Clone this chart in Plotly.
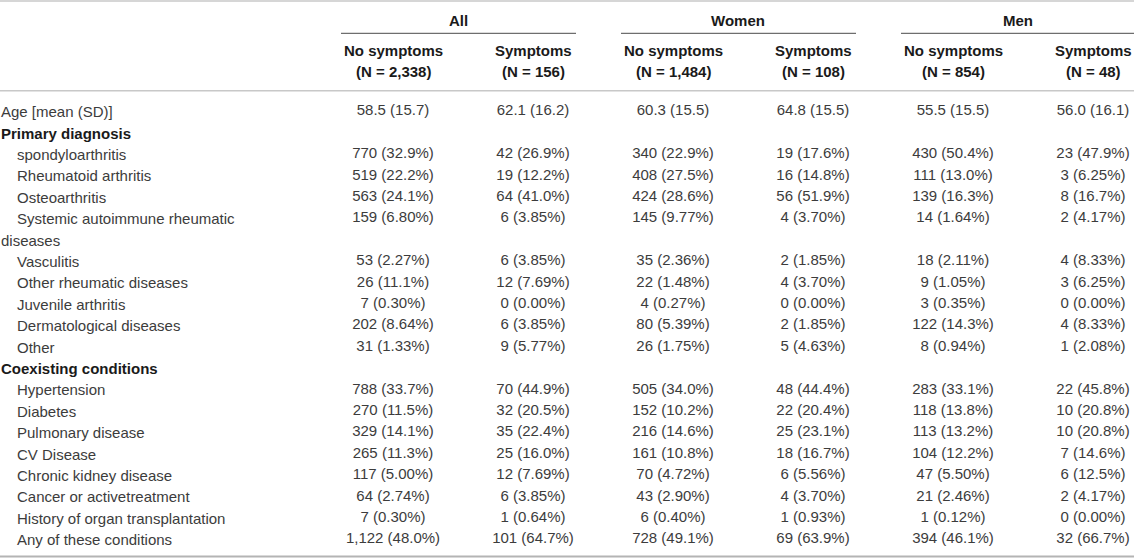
import textwrap
import plotly.graph_objects as go

# table content
groups = ["All", "Women", "Men"]
subgroups = ["No symptoms", "Symptoms"]
group_n = ["2,338", "156", "1,484", "108", "854", "48"]

age_label = "Age [mean (SD)]"
sections = ["Primary diagnosis", "Coexisting conditions"]
primary_labels = ["spondyloarthritis", "Rheumatoid arthritis", "Osteoarthritis",
                  "Systemic autoimmune rheumatic diseases", "Vasculitis",
                  "Other rheumatic diseases", "Juvenile arthritis",
                  "Dermatological diseases", "Other"]
coexisting_labels = ["Hypertension", "Diabetes", "Pulmonary disease", "CV Disease",
                     "Chronic kidney disease", "Cancer or activetreatment",
                     "History of organ transplantation", "Any of these conditions"]

# one list per column: age, 9 primary diagnoses, 8 coexisting conditions
all_no = ["58.5 (15.7)", "770 (32.9%)", "519 (22.2%)", "563 (24.1%)", "159 (6.80%)",
          "53 (2.27%)", "26 (11.1%)", "7 (0.30%)", "202 (8.64%)", "31 (1.33%)",
          "788 (33.7%)", "270 (11.5%)", "329 (14.1%)", "265 (11.3%)", "117 (5.00%)",
          "64 (2.74%)", "7 (0.30%)", "1,122 (48.0%)"]
all_sym = ["62.1 (16.2)", "42 (26.9%)", "19 (12.2%)", "64 (41.0%)", "6 (3.85%)",
           "6 (3.85%)", "12 (7.69%)", "0 (0.00%)", "6 (3.85%)", "9 (5.77%)",
           "70 (44.9%)", "32 (20.5%)", "35 (22.4%)", "25 (16.0%)", "12 (7.69%)",
           "6 (3.85%)", "1 (0.64%)", "101 (64.7%)"]
women_no = ["60.3 (15.5)", "340 (22.9%)", "408 (27.5%)", "424 (28.6%)", "145 (9.77%)",
            "35 (2.36%)", "22 (1.48%)", "4 (0.27%)", "80 (5.39%)", "26 (1.75%)",
            "505 (34.0%)", "152 (10.2%)", "216 (14.6%)", "161 (10.8%)", "70 (4.72%)",
            "43 (2.90%)", "6 (0.40%)", "728 (49.1%)"]
women_sym = ["64.8 (15.5)", "19 (17.6%)", "16 (14.8%)", "56 (51.9%)", "4 (3.70%)",
             "2 (1.85%)", "4 (3.70%)", "0 (0.00%)", "2 (1.85%)", "5 (4.63%)",
             "48 (44.4%)", "22 (20.4%)", "25 (23.1%)", "18 (16.7%)", "6 (5.56%)",
             "4 (3.70%)", "1 (0.93%)", "69 (63.9%)"]
men_no = ["55.5 (15.5)", "430 (50.4%)", "111 (13.0%)", "139 (16.3%)", "14 (1.64%)",
          "18 (2.11%)", "9 (1.05%)", "3 (0.35%)", "122 (14.3%)", "8 (0.94%)",
          "283 (33.1%)", "118 (13.8%)", "113 (13.2%)", "104 (12.2%)", "47 (5.50%)",
          "21 (2.46%)", "1 (0.12%)", "394 (46.1%)"]
men_sym = ["56.0 (16.1)", "23 (47.9%)", "3 (6.25%)", "8 (16.7%)", "2 (4.17%)",
           "4 (8.33%)", "3 (6.25%)", "0 (0.00%)", "4 (8.33%)", "1 (2.08%)",
           "22 (45.8%)", "10 (20.8%)", "10 (20.8%)", "7 (14.6%)", "6 (12.5%)",
           "2 (4.17%)", "0 (0.00%)", "32 (66.7%)"]
columns = [all_no, all_sym, women_no, women_sym, men_no, men_sym]

# layout (pixels)
W, H = 1145, 560
FONT = "Liberation Sans"
FS = 15
BODY = "#3c3c3c"
BOLD = "#1a1a1a"
col_x = [393 + 140 * i for i in range(6)]
row_y0, row_h = 111.7, 21.4
table_right = 1134

# build the row list: (label, kind, index into the column lists or None)
rows = [(age_label, "top", 0)]
k = 1
for sec, labels in zip(sections, [primary_labels, coexisting_labels]):
    rows.append((sec, "section", None))
    for lab in labels:
        parts = textwrap.wrap(lab, 32)
        rows.append((parts[0], "item", k))
        for p in parts[1:]:
            rows.append((p, "cont", None))
        k += 1

row_ys = [row_y0 + i * row_h for i in range(len(rows))]

fig = go.Figure()

# data cells
for c, vals in enumerate(columns):
    xs, ys, ts = [], [], []
    for (lab, kind, idx), y in zip(rows, row_ys):
        if idx is not None:
            xs.append(col_x[c])
            ys.append(y)
            ts.append(vals[idx])
    fig.add_trace(go.Scatter(x=xs, y=ys, text=ts, mode="text", textposition="middle center",
                             textfont=dict(family=FONT, size=FS, color=BODY),
                             hoverinfo="skip"))

# row labels
for (lab, kind, idx), y in zip(rows, row_ys):
    x = 16 if kind == "item" else 0
    bold = kind == "section"
    fig.add_annotation(x=x, y=y, xshift=-1, text="<b>%s</b>" % lab if bold else lab,
                       showarrow=False, xanchor="left", yanchor="middle",
                       font=dict(family=FONT, size=FS, color=BOLD if bold else BODY))

# column headers
for g, name in enumerate(groups):
    x0, x1 = col_x[2 * g], col_x[2 * g + 1]
    fig.add_annotation(x=(x0 + x1) / 2 - 5, y=20.7, text="<b>%s</b>" % name, showarrow=False,
                       font=dict(family=FONT, size=FS, color=BOLD))
    fig.add_shape(type="line", x0=x0 - 52, x1=min(x1 + 43, table_right), y0=33.3, y1=33.3,
                  line=dict(color="#4a4a4a", width=1))
for c in range(6):
    fig.add_annotation(x=col_x[c], y=50.7, text="<b>%s</b>" % subgroups[c % 2], showarrow=False,
                       font=dict(family=FONT, size=FS, color=BOLD))
    fig.add_annotation(x=col_x[c], y=71.7, text="<b>(N = %s)</b>" % group_n[c], showarrow=False,
                       font=dict(family=FONT, size=FS, color=BOLD))

# rules
fig.add_shape(type="line", x0=0, x1=table_right, y0=1, y1=1, line=dict(color="#c8c8c8", width=1.5))
fig.add_shape(type="line", x0=0, x1=table_right, y0=90.7, y1=90.7, line=dict(color="#c8c8c8", width=1.5))
fig.add_shape(type="line", x0=0, x1=table_right, y0=556.5, y1=556.5, line=dict(color="#b4b4b4", width=2))

fig.update_layout(width=W, height=H, margin=dict(l=0, r=0, t=0, b=0),
                  paper_bgcolor="white", plot_bgcolor="white", showlegend=False,
                  xaxis=dict(range=[0, W], visible=False, fixedrange=True),
                  yaxis=dict(range=[H, 0], visible=False, fixedrange=True))

# page body has an 8px default margin; drop it so the table fills the window
fig.write_html("out.html", config={"displayModeBar": False},
               post_script="document.body.style.margin='0';document.body.style.overflow='hidden';")
